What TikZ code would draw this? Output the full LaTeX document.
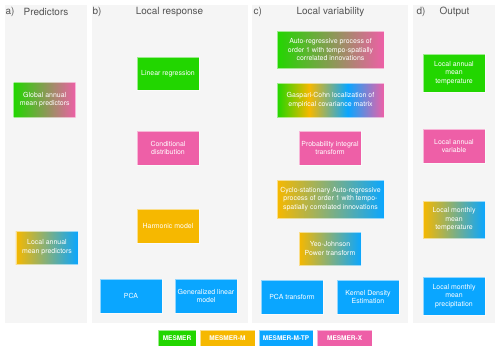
\documentclass[tikz,border=0pt]{standalone}
\usepackage{fontspec}
\setsansfont{TeX Gyre Heros}
\usetikzlibrary{positioning}
\definecolor{mesmerGreen}{HTML}{22D600}
\definecolor{mesmerOrange}{HTML}{F6B800}
\definecolor{mesmerBlue}{HTML}{0AA6FF}
\definecolor{mesmerPink}{HTML}{EE5FA7}
\definecolor{panelGrey}{HTML}{F5F5F5}
\definecolor{titleGrey}{HTML}{555555}
\pgfdeclarehorizontalshading{allmodels}{100bp}{color(0bp)=(mesmerGreen); color(25bp)=(mesmerGreen); color(40bp)=(mesmerOrange); color(58bp)=(mesmerBlue); color(75bp)=(mesmerPink); color(100bp)=(mesmerPink)}

\begin{document}
\begin{tikzpicture}[
    x=1bp, y=-1bp,
    every node/.style={font=\sffamily\fontsize{7}{8.7}\selectfont, align=center, text=white, inner sep=1pt},
    panel/.style={fill=panelGrey},
    title/.style={font=\sffamily\fontsize{10}{12}\selectfont, text=titleGrey, inner sep=0pt},
    method/.style={draw=white, draw opacity=0.55, line width=0.6pt, minimum width=62bp, minimum height=34bp},
    wide/.style={method, minimum width=107bp},
    mesmer/.style={method, fill=mesmerGreen},
    mesmerm/.style={method, fill=mesmerOrange},
    mesmertp/.style={method, fill=mesmerBlue},
    mesmerx/.style={method, fill=mesmerPink},
    greenpink/.style={method, left color=mesmerGreen, right color=mesmerPink},
    orangeblue/.style={method, left color=mesmerOrange, right color=mesmerBlue},
    legend/.style={draw=white, draw opacity=0.55, line width=0.6pt, minimum height=16bp, font=\sffamily\bfseries\fontsize{6.5}{8}\selectfont}
  ]
    \useasboundingbox (0,0) rectangle (500,351);
    \fill[white] (0,0) rectangle (500,351);

    \fill[panel] (5,5) rectangle (87,323);
    \fill[panel] (92,5) rectangle (247.5,323);
    \fill[panel] (252.3,5) rectangle (408,323);
    \fill[panel] (413,5) rectangle (495,323);

    \node[title, anchor=west] (ta) at (5.5,12) {a)};
    \node[title] (tpred) at (46,12) {Predictors};
    \node[title, anchor=west] (tb) at (92.3,12) {b)};
    \node[title] (tresp) at (169.5,12) {Local response};
    \node[title, anchor=west] (tc) at (253.5,12) {c)};
    \node[title] (tvar) at (330.5,12) {Local variability};
    \node[title, anchor=west] (td) at (416.5,12) {d)};
    \node[title] (tout) at (454.5,12) {Output};

    \node[greenpink, minimum height=35bp] (glob) at (44.7,99.5) {Global annual\\mean predictors};
    \node[orangeblue, minimum height=33bp] (locp) at (47,247.5) {Local annual\\mean predictors};

    \node[mesmer, minimum height=33bp] (linreg) at (168,73.5) {Linear regression};
    \node[mesmerx] (cond) at (168,148) {Conditional\\distribution};
    \node[mesmerm] (harm) at (168,226) {Harmonic model};
    \node[mesmertp] (pca) at (131,296) {PCA};
    \node[mesmertp] (glm) at (206,296) {Generalized linear\\model};

    \node[wide, left color=mesmerGreen, right color=mesmerPink, minimum height=37bp] (ar) at (330.5,49.5) {Auto-regressive process of\\order 1 with tempo-spatially\\correlated innovations};
    \node[wide, shading=allmodels] (gc) at (330.5,100) {Gaspari-Cohn localization of\\empirical covariance matrix};
    \node[mesmerx] (pit) at (330,148) {Probability integral\\transform};
    \node[wide, left color=mesmerOrange, right color=mesmerBlue, minimum height=38bp] (cyc) at (330.5,199) {Cyclo-stationary Auto-regressive\\process of order 1 with tempo-\\spatially correlated innovations};
    \node[orangeblue, minimum height=33bp] (yj) at (330,248.5) {Yeo-Johnson\\Power transform};
    \node[mesmertp] (pcat) at (292,297) {PCA transform};
    \node[mesmertp] (kde) at (368,297) {Kernel Density\\Estimation};

    \node[mesmer, minimum height=38bp] (lamt) at (454,73) {Local annual\\mean\\temperature};
    \node[mesmerx] (lav) at (454,146) {Local annual\\variable};
    \node[orangeblue, minimum height=37bp] (lmmt) at (454,219.5) {Local monthly\\mean\\temperature};
    \node[mesmertp, minimum height=38bp] (lmmp) at (454,296) {Local monthly\\mean\\precipitation};

    \node[legend, fill=mesmerGreen, minimum width=38bp] (lgmesmer) at (177,338) {MESMER};
    \node[legend, fill=mesmerOrange, minimum width=55bp, right=3.3bp of lgmesmer] (lgmesmerm) {MESMER-M};
    \node[legend, fill=mesmerBlue, minimum width=54.5bp, right=3.3bp of lgmesmerm] (lgmesmertp) {MESMER-M-TP};
    \node[legend, fill=mesmerPink, minimum width=55bp, right=3.3bp of lgmesmertp] (lgmesmerx) {MESMER-X};
  \end{tikzpicture}
\end{document}
